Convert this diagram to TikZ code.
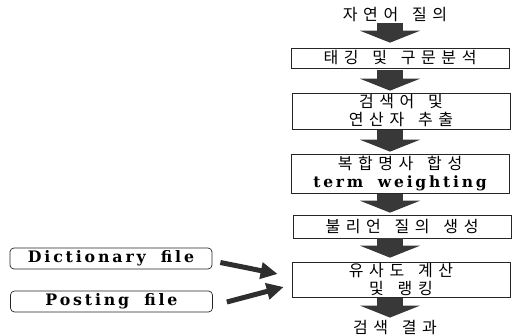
\documentclass[tikz,border=0pt]{standalone}
\usepackage{fontspec}
\usetikzlibrary{arrows.meta,calc}
\newfontfamily\kr[LetterSpace=35,WordSpace=1.5]{Noto Sans CJK KR}
\newfontfamily\en[LetterSpace=18,WordSpace=1.8]{DejaVu Serif}
\begin{document}
\begin{tikzpicture}[x=1pt,y=-1pt,
  krtext/.style={font=\kr\fontsize{16}{18}\selectfont, align=center, inner sep=0pt},
  procbox/.style={draw=black!85, line width=0.7pt, minimum width=218pt, inner sep=0pt, align=center, font=\kr\fontsize{16}{18}\selectfont},
  filebox/.style={draw=black!85, line width=0.7pt, rounded corners=4pt, minimum width=202pt, minimum height=21pt, inner sep=0pt, font=\en\bfseries\fontsize{15.8}{17}\selectfont},
  bigarr/.style={draw=black!78, line width=26pt, -{Triangle[width=60pt,length=12pt,fill=black!78]}},
  sidearr/.style={draw=black!82, line width=5pt, -{Triangle[width=16pt,length=17pt,fill=black!82]}}
]
\useasboundingbox (0,0) rectangle (517,336);
\coordinate (ax) at (390,0);
\node[krtext] (t) at (395,15) {자연어 질의};
\node[procbox, minimum height=20pt] (b1) at (400,58) {태깅 및 구문분석};
\node[procbox, minimum height=36pt] (b2) at (401,111) {검색어 및\\연산자 추출};
\node[procbox, minimum height=39pt] (b3) at (400,173.5) {복합명사 합성\\{\en\bfseries\fontsize{15.5}{18}\selectfont term weighting}};
\node[procbox, minimum height=23pt] (b4) at (402,226.5) {불리언 질의 생성};
\node[procbox, minimum height=35pt] (b5) at (401,279.5) {유사도 계산\\및 랭킹};
\node[krtext] (r) at (395,328) {검색 결과};
\node[filebox] (d) at (111,258.5) {Dictionary file};
\node[filebox] (p) at (111.5,301.5) {Posting file};

\draw[bigarr, shorten <=1pt, shorten >=5pt] (t.south -| ax) -- (b1.north -| ax);
\draw[bigarr, shorten <=2pt, shorten >=2pt] (b1.south -| ax) -- (b2.north -| ax);
\draw[bigarr, shorten <=1pt, shorten >=2pt] (b2.south -| ax) -- (b3.north -| ax);
\draw[bigarr, shorten <=1pt, shorten >=2pt] (b3.south -| ax) -- (b4.north -| ax);
\draw[bigarr, shorten <=0pt, shorten >=4pt] (b4.south -| ax) -- (b5.north -| ax);
\draw[bigarr, shorten <=1pt, shorten >=3pt] (b5.south -| ax) -- (r.north -| ax);

\draw[sidearr] ($(d.east)+(8,4)$) -- ($(b5.west)+(-14,-5.5)$);
\draw[sidearr] ($(p.east)+(14,0.5)$) -- ($(b5.west)+(-8,7.5)$);
\end{tikzpicture}
\end{document}
